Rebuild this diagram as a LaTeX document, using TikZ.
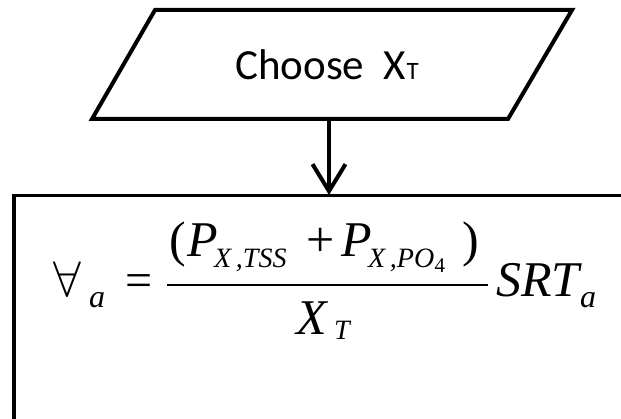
\documentclass[tikz,border=0pt]{standalone}
\usepackage{fontspec}
\newfontfamily\calibri{Carlito}
\newfontfamily\tnr{Liberation Serif}
\usetikzlibrary{arrows.meta}
\tikzset{
  shapeline/.style={line width=4pt, line join=miter},
  boxline/.style={line width=3.5pt, line join=miter},
  barline/.style={line width=2.6pt},
  flowarrow/.style={line width=4pt, -{Straight Barb[length=27pt,width=33pt]}},
  labeltext/.style={font=\calibri\fontsize{43}{50}\selectfont, inner sep=0pt, anchor=base west},
  bigit/.style={font=\tnr\itshape\fontsize{50}{56}\selectfont, inner sep=0pt, anchor=base west},
  bigup/.style={font=\tnr\fontsize{50}{56}\selectfont, inner sep=0pt, anchor=base west},
  subit/.style={font=\tnr\itshape\fontsize{28}{32}\selectfont, inner sep=0pt, anchor=base west},
  subsubup/.style={font=\tnr\fontsize{21}{24}\selectfont, inner sep=0pt, anchor=base west},
  asub/.style={font=\tnr\itshape\fontsize{32}{36}\selectfont, inner sep=0pt, anchor=base west}
}
\begin{document}
\begin{tikzpicture}[x=1pt,y=-1pt]
\useasboundingbox (0,0) rectangle (621,419);
% parallelogram input
\coordinate (pTL) at (155,10);
\coordinate (pTR) at (572,10);
\coordinate (pBR) at (508,119);
\coordinate (pBL) at (92,119);
\draw[shapeline] (pTL) -- (pTR) -- (pBR) -- (pBL) -- cycle;
\node[labeltext] (choose) at (235,80) {Choose\ \ X\kern0.5pt{\fontsize{25}{25}\selectfont T}};
% process box (extends beyond the picture)
\coordinate (bBL) at (14,440);
\coordinate (bTL) at (14,195.5);
\coordinate (bTR) at (650,195.5);
\draw[boxline] (bBL) -- (bTL) -- (bTR);
% connector
\coordinate (inBot) at (329,119);
\coordinate (boxTop) at (329,195);
\draw[flowarrow] (inBot) -- (boxTop);
% formula
\node[inner sep=0pt, anchor=base west, scale=5] (forall) at (52,297) {$\forall$};
\node[asub] (a1) at (89,308) {a};
\node[bigup, font=\tnr\fontsize{48}{54}\selectfont] (eq) at (125,297) {=};
% numerator
\node[bigup] (lpar) at (169,257) {(};
\node[bigit] (P1) at (187,257) {P};
\node[subit] (s1) at (214,268) {X\,,TSS};
\node[bigup] (plus) at (306,257) {+};
\node[bigit] (P2) at (341,257) {P};
\node[subit] (s2) at (368,268) {X\,,PO};
\node[subsubup] (four) at ([yshift=-5pt]s2.base east) {4};
\node[bigup] (rpar) at (462,257) {)};
% fraction bar
\coordinate (barL) at (167,285);
\coordinate (barR) at (488,285);
\draw[barline] (barL) -- (barR);
% denominator
\node[bigit] (X) at (296,335) {X};
\node[subit] (T) at (334,340) {T};
% right factor
\node[bigit] (SRT) at (496,297) {SRT};
\node[asub] (a2) at (580,308) {a};
\end{tikzpicture}
\end{document}
